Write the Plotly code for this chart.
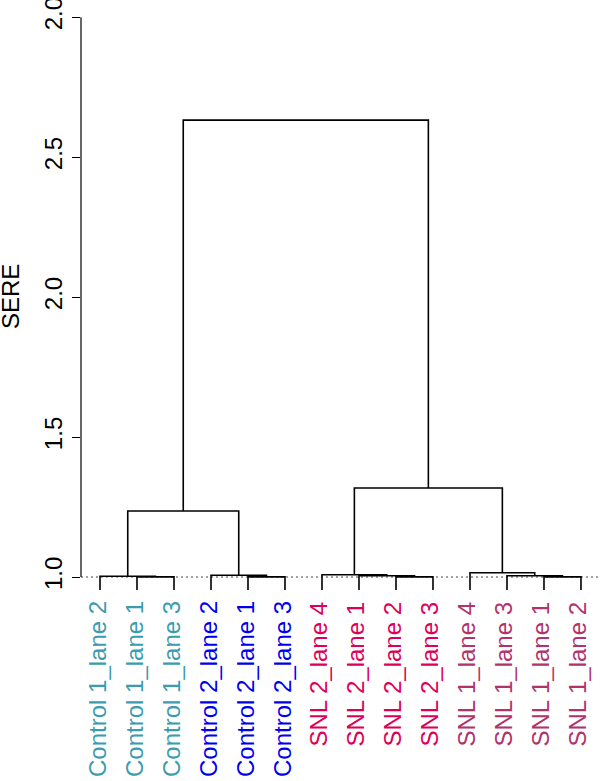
import plotly.graph_objects as go

# ---- data ----
leaf_labels = ["Control 1_lane 2", "Control 1_lane 1", "Control 1_lane 3",
               "Control 2_lane 2", "Control 2_lane 1", "Control 2_lane 3",
               "SNL 2_lane 4", "SNL 2_lane 1", "SNL 2_lane 2", "SNL 2_lane 3",
               "SNL 1_lane 4", "SNL 1_lane 3", "SNL 1_lane 1", "SNL 1_lane 2"]
leaf_groups = ["Control 1"] * 3 + ["Control 2"] * 3 + ["SNL 2"] * 4 + ["SNL 1"] * 4

# hclust-style merges: negative = leaf (1-based, in plotted order), positive = earlier merge
merge_left = [-2, -5, -9, -13, -1, -8, -12, -4, -7, -11, 5, 9, 11]
merge_right = [-3, -6, -10, -14, 1, 3, 4, 2, 6, 7, 8, 10, 12]
merge_height = [1.0003, 1.0003, 1.0005, 1.0005, 1.0025, 1.0046, 1.0046,
                1.006, 1.008, 1.015, 1.236, 1.318, 2.632]

tick_vals = [1.0, 1.5, 2.0, 2.5, 3.0]
tick_text = ["1.0", "1.5", "2.0", "2.5", "2.0"]
y_title = "SERE"

# ---- style ----
group_colors = {"Control 1": "#3a9cad", "Control 2": "#0000ee",
                "SNL 2": "#de0058", "SNL 1": "#b0336a"}
leaf_bottom = 0.9536
font_family = "Liberation Sans, Arial, Helvetica, sans-serif"

# ---- build dendrogram segments ----
leaf_x = {i + 1: i + 1 for i in range(len(leaf_labels))}
node_x, node_h = {}, {}


def pos(ref):
    if ref < 0:
        return leaf_x[-ref], leaf_bottom
    return node_x[ref], node_h[ref]


xs, ys = [], []
for k, (a, b, h) in enumerate(zip(merge_left, merge_right, merge_height), start=1):
    xa, ha = pos(a)
    xb, hb = pos(b)
    xs += [xa, xa, xb, xb, None]
    ys += [ha, h, h, hb, None]
    node_x[k] = (xa + xb) / 2
    node_h[k] = h

fig = go.Figure()
fig.add_trace(go.Scatter(x=xs, y=ys, mode="lines",
                         line=dict(color="black", width=1.6),
                         hoverinfo="skip", showlegend=False))

# base dotted line at 1.0
fig.add_shape(type="line", xref="paper", x0=0, x1=1, yref="y", y0=1.0, y1=1.0,
              line=dict(color="#444444", width=1, dash="2px,3px"), layer="below")
# y axis line spanning the ticks
fig.add_shape(type="line", xref="paper", x0=0, x1=0, yref="y", y0=tick_vals[0], y1=tick_vals[-1],
              line=dict(color="black", width=1.2))

for i, (lab, g) in enumerate(zip(leaf_labels, leaf_groups), start=1):
    fig.add_annotation(x=i, xref="x", y=0, yref="paper", text=lab, showarrow=False,
                       textangle=-90, xanchor="center", yanchor="top", yshift=-7, xshift=-3,
                       font=dict(family=font_family, size=24, color=group_colors[g]))

# y axis title
fig.add_annotation(x=0, xref="paper", xshift=-71, y=2.0, yref="y", text=y_title,
                   showarrow=False, textangle=-90, xanchor="center", yanchor="middle",
                   font=dict(family=font_family, size=24, color="black"))

n = len(leaf_labels)
fig.update_layout(
    width=600, height=781,
    margin=dict(l=81, r=0, t=17, b=189, autoexpand=False),
    plot_bgcolor="white", paper_bgcolor="white",
    font=dict(family=font_family, size=24, color="black"),
    xaxis=dict(range=[1 - 19 / 37, n + 0.514], showgrid=False, zeroline=False,
               showticklabels=False, showline=False, ticks="", automargin=False),
    yaxis=dict(range=[1 - 15 / 280, 3.0005], showgrid=False, zeroline=False,
               showline=False, tickvals=tick_vals, ticktext=tick_text,
               ticks="outside", ticklen=8, tickwidth=1.2, tickcolor="black",
               tickangle=-90, tickfont=dict(size=24), automargin=False,
               ticklabeloverflow="allow"),
)

fig.write_html("out.html", config={"displayModeBar": False},
               post_script="document.body.style.margin='0';")
